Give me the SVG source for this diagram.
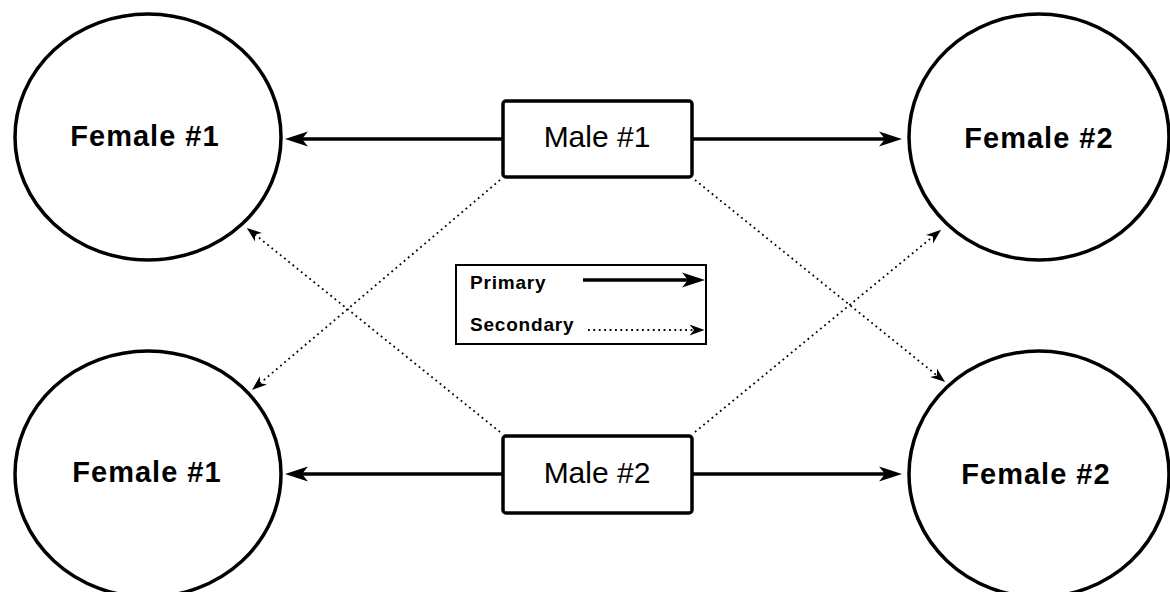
<svg xmlns="http://www.w3.org/2000/svg" width="1170" height="592" viewBox="0 0 1170 592">
<style>
.female ellipse{fill:#fff;stroke:#000;stroke-width:3.5}
.female text{font-family:"Liberation Sans",Arial,sans-serif;font-weight:bold;font-size:29px;letter-spacing:1px;text-anchor:middle;fill:#000}
.male rect{fill:#fff;stroke:#000;stroke-width:3.5}
.male text{font-family:"Liberation Sans",Arial,sans-serif;font-size:30px;text-anchor:middle;fill:#000}
.primary{stroke:#000;stroke-width:3.5;fill:none}
.secondary{stroke:#000;stroke-width:1.8;stroke-dasharray:1.8 3.6;fill:none}
.legend rect{fill:#fff;stroke:#000;stroke-width:2}
.legend text{font-family:"Liberation Sans",Arial,sans-serif;font-weight:bold;font-size:19px;letter-spacing:0.8px;fill:#000}
</style>
<defs>
<marker id="pa" markerUnits="userSpaceOnUse" viewBox="-1 -9 26 18" markerWidth="26" markerHeight="18" refX="6" refY="0" orient="auto">
<path d="M0,-7.5 L23,0 L0,7.5 L6,0 Z" fill="#000"/>
</marker>
<marker id="sa" markerUnits="userSpaceOnUse" viewBox="-1 -7 18 14" markerWidth="18" markerHeight="14" refX="4.5" refY="0" orient="auto">
<path d="M0,-5.5 L15,0 L0,5.5 L4.5,0 Z" fill="#000"/>
</marker>
</defs>
<g id="connectors">
<line class="primary" x1="503" y1="139" x2="302" y2="139" marker-end="url(#pa)"/>
<line class="primary" x1="692" y1="139" x2="885" y2="139" marker-end="url(#pa)"/>
<line class="primary" x1="503" y1="474" x2="302" y2="474" marker-end="url(#pa)"/>
<line class="primary" x1="692" y1="474" x2="885" y2="474" marker-end="url(#pa)"/>
<line class="secondary" x1="500" y1="180" x2="260" y2="383.3" marker-end="url(#sa)"/>
<line class="secondary" x1="695" y1="180" x2="937" y2="375.5" marker-end="url(#sa)"/>
<line class="secondary" x1="500" y1="432" x2="255" y2="234.5" marker-end="url(#sa)"/>
<line class="secondary" x1="695" y1="432" x2="933" y2="236.5" marker-end="url(#sa)"/>
</g>
<g id="female1-top" class="female">
<ellipse cx="148" cy="137" rx="133" ry="123"/>
<text x="145" y="146">Female #1</text>
</g>
<g id="female2-top" class="female">
<ellipse cx="1039" cy="137" rx="130" ry="123"/>
<text x="1039" y="148">Female #2</text>
</g>
<g id="female1-bottom" class="female">
<ellipse cx="148" cy="474" rx="133" ry="123"/>
<text x="147" y="482">Female #1</text>
</g>
<g id="female2-bottom" class="female">
<ellipse cx="1039" cy="474" rx="130" ry="123"/>
<text x="1036" y="484">Female #2</text>
</g>
<g id="male1" class="male">
<rect x="503" y="101" width="189" height="76" rx="3"/>
<text x="597" y="147">Male #1</text>
</g>
<g id="male2" class="male">
<rect x="503" y="436" width="189" height="77" rx="3"/>
<text x="597" y="483">Male #2</text>
</g>
<g id="legend" class="legend">
<rect x="456" y="265" width="250" height="79"/>
<text x="470" y="289">Primary</text>
<text x="470" y="331">Secondary</text>
<line class="primary" x1="583" y1="280" x2="688" y2="280" marker-end="url(#pa)"/>
<line class="secondary" x1="588" y1="330" x2="694" y2="330" marker-end="url(#sa)"/>
</g>
</svg>
